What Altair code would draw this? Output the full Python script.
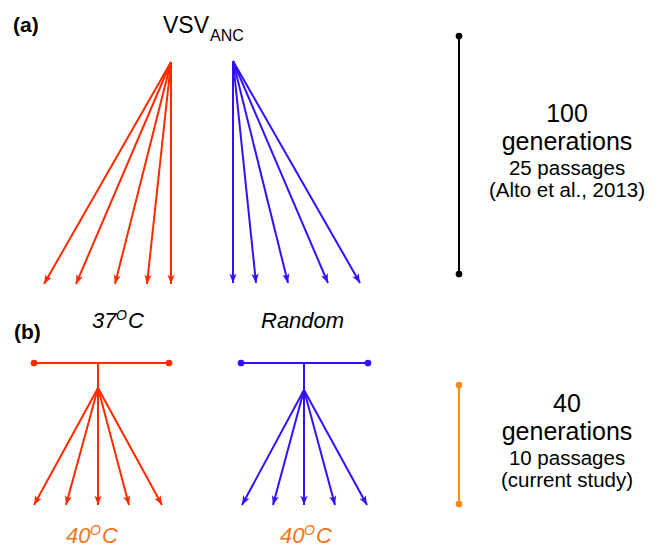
import math
import altair as alt
import pandas as pd

RED = "#FF2A00"
BLUE = "#3311FF"
ORANGE = "#FF8A10"
ORANGE_TXT = "#F47420"
BLACK = "#000000"

# --- panel (a): ancestral fan-out (pixel coordinates of the diagram) ---
a_red_origin = (171, 62)
a_red_tips_x = [44, 76, 115, 147, 171]
a_red_tip_y = 284
a_blue_origin = (233, 61)
a_blue_tips_x = [233, 256, 288, 328, 360]
a_blue_tip_y = 283

# --- panel (b): bars, stems and fan-out ---
b_red_bar = (34, 169, 363)
b_red_stem = (98, 363, 388)
b_red_tips_x = [34, 66, 98, 129, 162]
b_blue_bar = (241, 368, 363)
b_blue_stem = (304, 363, 390)
b_blue_tips_x = [242, 273, 304, 335, 367]
b_tip_y = 505

# --- scale bars on the right ---
bar_x = 459
black_bar = (36, 274)
orange_bar = (385, 504)

rules, heads, dots = [], [], []


def arrow(x0, y0, x1, y1, c):
    rules.append(dict(x=x0, y=y0, x2=x1, y2=y1, c=c))
    ang = math.degrees(math.atan2(x1 - x0, -(y1 - y0))) % 360
    heads.append(dict(x=x1, y=y1, a=ang, c=c))


for tx in a_red_tips_x:
    arrow(a_red_origin[0], a_red_origin[1], tx, a_red_tip_y, RED)
for tx in a_blue_tips_x:
    arrow(a_blue_origin[0], a_blue_origin[1], tx, a_blue_tip_y, BLUE)

for bar, stem, tips, c in [(b_red_bar, b_red_stem, b_red_tips_x, RED),
                           (b_blue_bar, b_blue_stem, b_blue_tips_x, BLUE)]:
    rules.append(dict(x=bar[0], y=bar[2], x2=bar[1], y2=bar[2], c=c))
    dots += [dict(x=bar[0], y=bar[2], c=c), dict(x=bar[1], y=bar[2], c=c)]
    rules.append(dict(x=stem[0], y=stem[1], x2=stem[0], y2=stem[2], c=c))
    for tx in tips:
        arrow(stem[0], stem[2], tx, b_tip_y, c)

for (y0, y1), c in [(black_bar, BLACK), (orange_bar, ORANGE)]:
    rules.append(dict(x=bar_x, y=y0, x2=bar_x, y2=y1, c=c))
    dots += [dict(x=bar_x, y=y0, c=c), dict(x=bar_x, y=y1, c=c)]

rules_df = pd.DataFrame(rules)
heads_df = pd.DataFrame(heads)
dots_df = pd.DataFrame(dots)

# --- texts ---
bold_labels = pd.DataFrame(dict(t=["(a)", "(b)"], x=[13, 14], y=[32, 339]))
plain_left = pd.DataFrame(dict(t=["VSV"], x=[163], y=[33]))
sub_left = pd.DataFrame(dict(t=["ANC"], x=[210], y=[41]))
italic_big = pd.DataFrame(dict(
    t=["37", "C", "Random", "40", "C", "40", "C"],
    x=[92, 128, 261, 66, 102, 280, 316],
    y=[328, 328, 328, 543, 543, 543, 543],
    c=[BLACK, BLACK, BLACK, ORANGE_TXT, ORANGE_TXT, ORANGE_TXT, ORANGE_TXT]))
italic_sup = pd.DataFrame(dict(
    t=["O", "O", "O"], x=[116, 90, 304], y=[320, 535, 535],
    c=[BLACK, ORANGE_TXT, ORANGE_TXT]))
right_big = pd.DataFrame(dict(
    t=["100", "generations", "40", "generations"],
    x=[567, 567, 567, 567], y=[122, 150, 412, 440]))
right_small = pd.DataFrame(dict(
    t=["25 passages", "(Alto et al., 2013)", "10 passages", "(current study)"],
    x=[567, 567, 567, 567], y=[175, 197, 465, 487]))

X = lambda f="x": alt.X(f"{f}:Q", scale=alt.Scale(domain=[8, 655], nice=False, zero=False), axis=None)
Y = lambda f="y": alt.Y(f"{f}:Q", scale=alt.Scale(domain=[8, 547], nice=False, zero=False, reverse=True), axis=None)
col = alt.Color("c:N", scale=None, legend=None)

FONT = "Liberation Sans"

rule_layer = alt.Chart(rules_df).mark_rule(strokeWidth=2).encode(
    x=X(), y=Y(), x2="x2:Q", y2="y2:Q", color=col)

head_path = "M0,0L0.9,2.3L0,1.75L-0.9,2.3Z"
head_layer = alt.Chart(heads_df).mark_point(
    shape=head_path, filled=True, size=64, opacity=1, strokeWidth=0).encode(
    x=X(), y=Y(), angle=alt.Angle("a:Q", scale=None), color=col)

dot_layer = alt.Chart(dots_df).mark_circle(size=45, opacity=1).encode(
    x=X(), y=Y(), color=col)


def txt(df, size, align="left", style="normal", weight="normal", color=None):
    m = alt.Chart(df).mark_text(font=FONT, fontSize=size, align=align,
                                baseline="alphabetic", fontStyle=style,
                                fontWeight=weight, color=color or BLACK)
    enc = dict(x=X(), y=Y(), text="t:N")
    if "c" in df.columns:
        enc["color"] = col
    return m.encode(**enc)


chart = alt.layer(
    rule_layer, head_layer, dot_layer,
    txt(bold_labels, 21, weight="bold"),
    txt(plain_left, 23),
    txt(sub_left, 16),
    txt(italic_big, 22, style="italic"),
    txt(italic_sup, 14, style="italic"),
    txt(right_big, 25, align="center"),
    txt(right_small, 20.5, align="center"),
).properties(width=647, height=539, padding=0, autosize="none").configure_view(stroke=None)

chart.save("out.html", embed_options={"renderer": "svg", "actions": False})
